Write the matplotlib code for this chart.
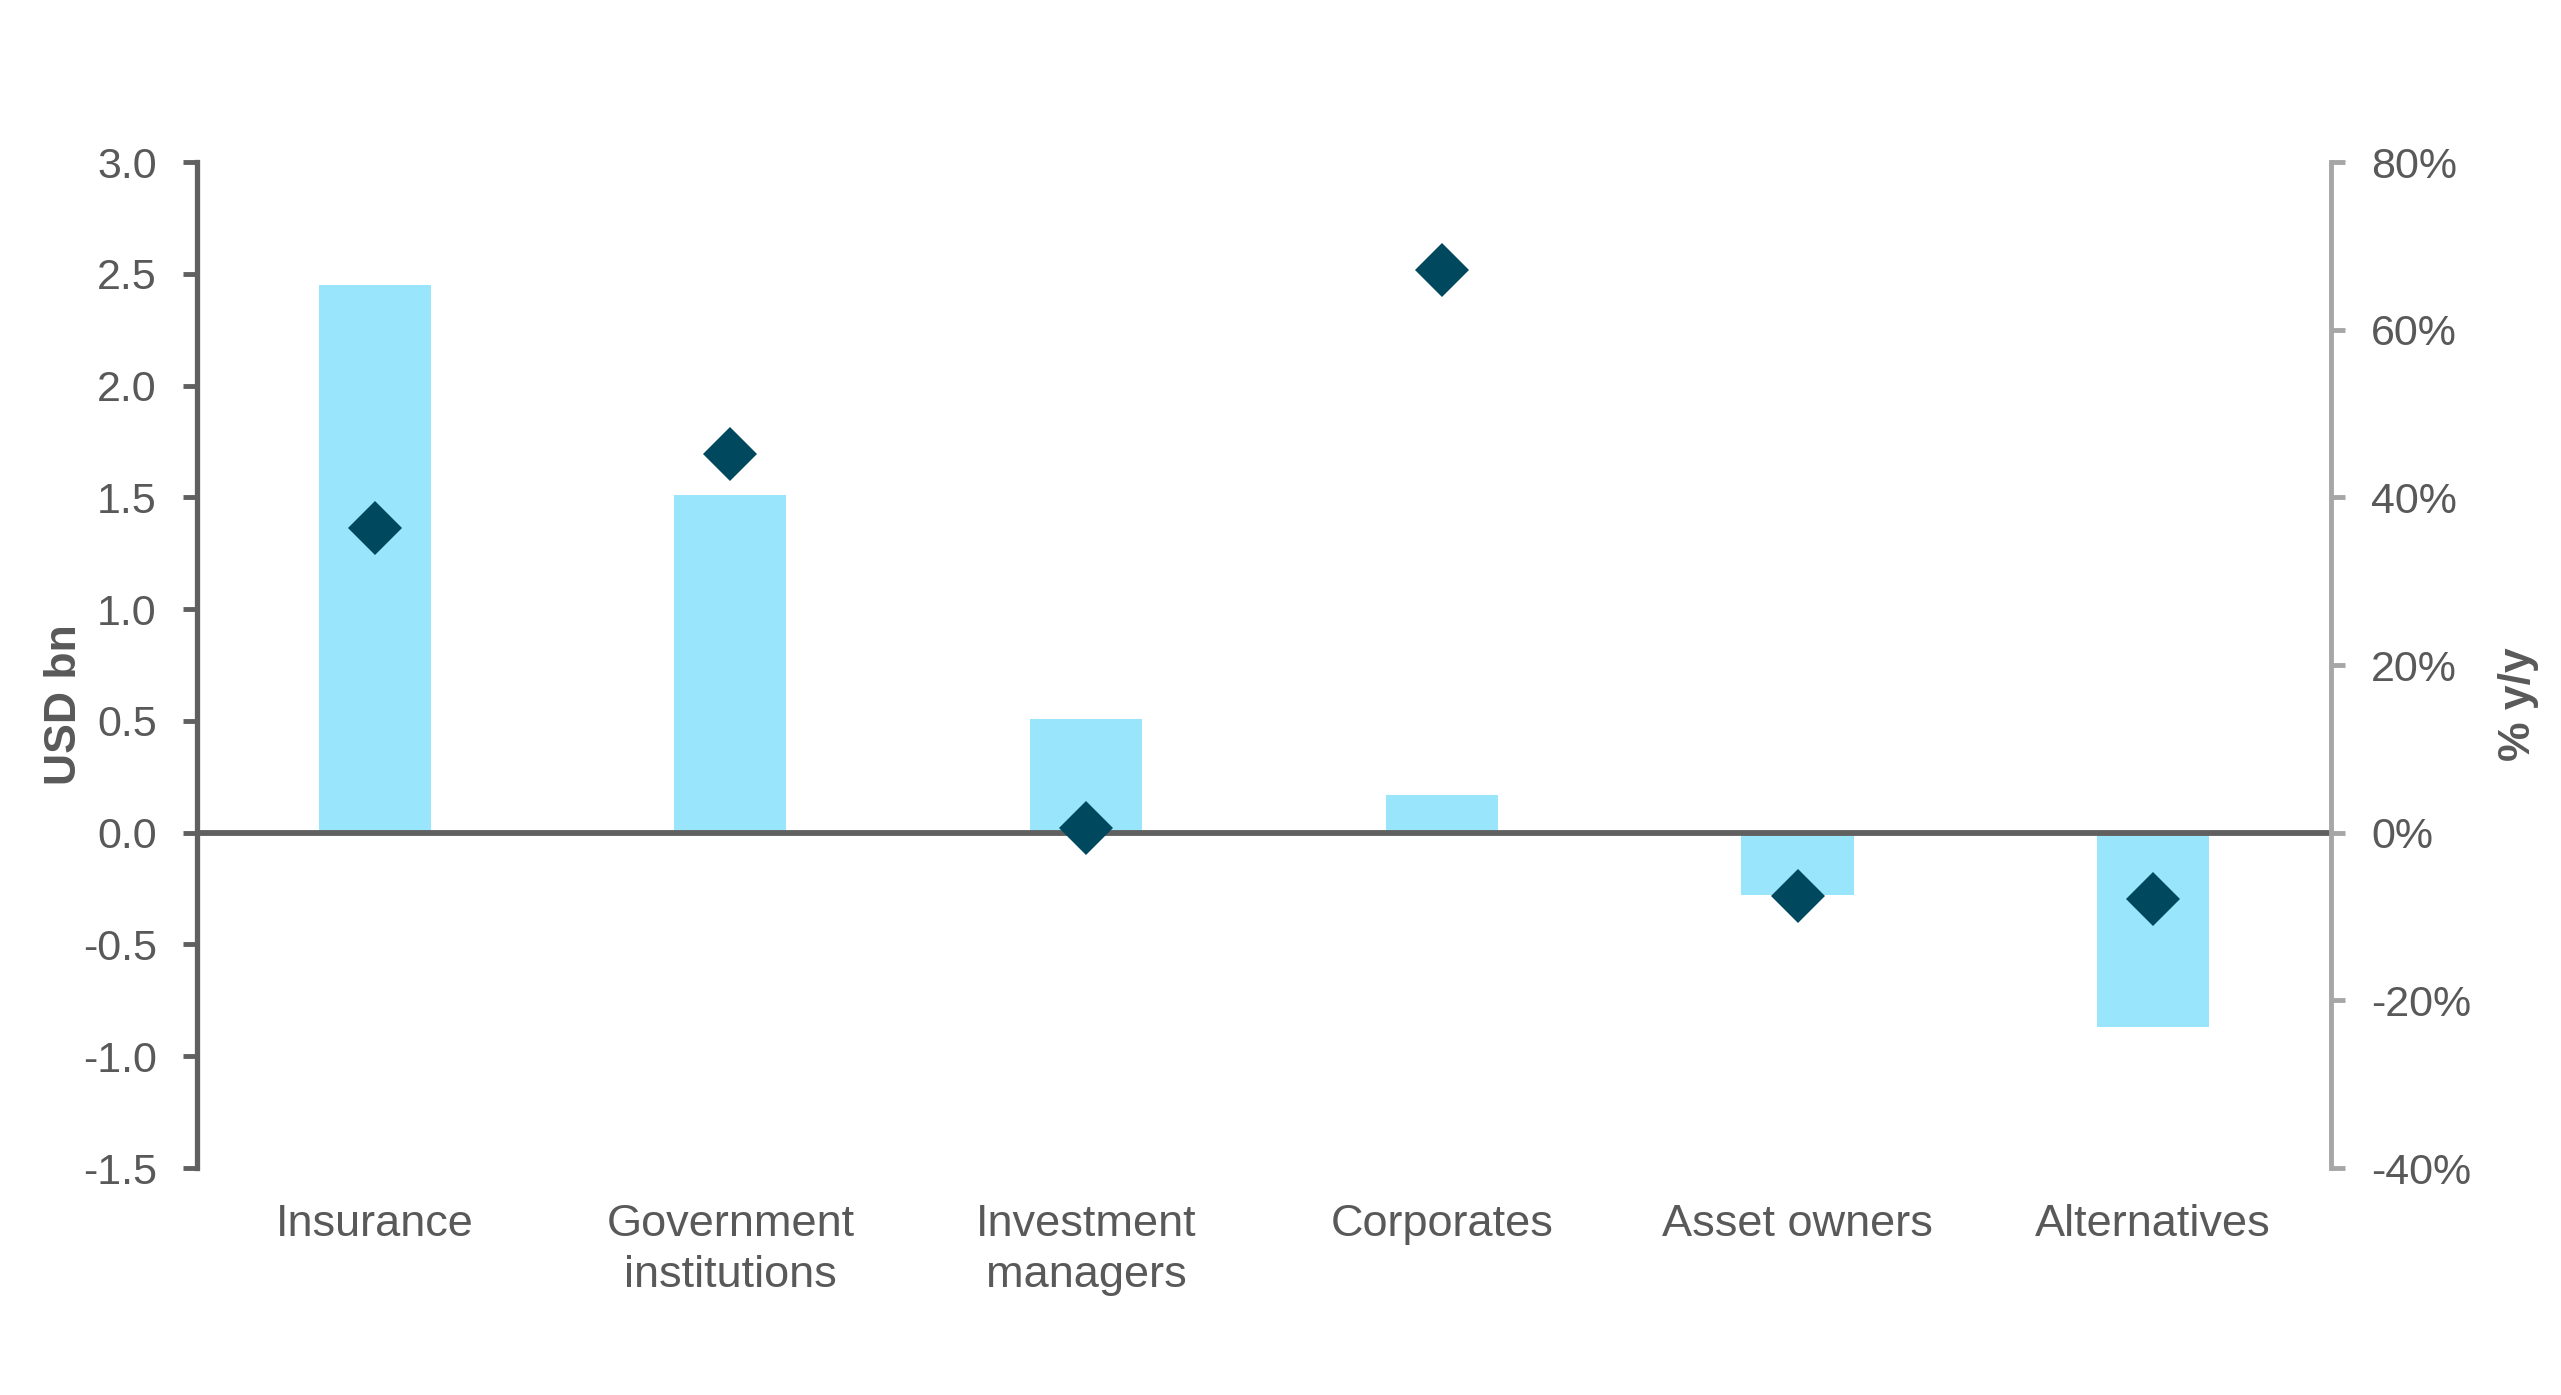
import matplotlib
matplotlib.use("Agg")
import matplotlib.pyplot as plt
from matplotlib.ticker import FormatStrFormatter, FuncFormatter

# data
categories = ["Insurance", "Government\ninstitutions", "Investment\nmanagers",
              "Corporates", "Asset owners", "Alternatives"]
usd_bn = [2.45, 1.51, 0.51, 0.17, -0.28, -0.87]      # bars, left axis
pct_yy = [36.3, 45.2, 0.6, 67.1, -7.5, -7.9]          # diamonds, right axis

left_ticks = [-1.5, -1.0, -0.5, 0.0, 0.5, 1.0, 1.5, 2.0, 2.5, 3.0]
right_ticks = [-40, -20, 0, 20, 40, 60, 80]

BAR_COLOR = "#99E6FC"
DOT_COLOR = "#00485E"
TEXT_COLOR = "#595959"
DARK_AXIS = "#606060"
LIGHT_AXIS = "#A6A6A6"

plt.rcParams["font.family"] = ["Liberation Sans", "DejaVu Sans"]
plt.rcParams["axes.unicode_minus"] = False


def main():
    fig = plt.figure(figsize=(25.61, 13.95), dpi=100)
    ax = fig.add_axes([0.0769, 0.1627, 0.8333, 0.7211])
    x = list(range(len(categories)))

    # 1. bars on the left axis
    ax.bar(x, usd_bn, width=0.315, color=BAR_COLOR, zorder=2)
    ax.axhline(0, color=DARK_AXIS, linewidth=4.2, zorder=3)
    ax.set_xlim(-0.5, len(categories) - 0.5)
    ax.set_ylim(-1.5, 3.0)
    ax.set_yticks(left_ticks)
    ax.yaxis.set_major_formatter(FormatStrFormatter("%.1f"))
    ax.set_xticks(x)
    ax.set_xticklabels(categories, fontsize=32.5, color=TEXT_COLOR, linespacing=1.3)
    ax.tick_params(axis="x", length=0, pad=26)
    ax.tick_params(axis="y", length=10, width=3.5, color=DARK_AXIS,
                   labelsize=31, labelcolor=TEXT_COLOR, pad=19)
    for side in ["top", "right", "bottom"]:
        ax.spines[side].set_visible(False)
    ax.spines["left"].set_color(DARK_AXIS)
    ax.spines["left"].set_linewidth(3.8)
    ax.set_ylabel("USD bn", fontsize=32, fontweight="bold", color=TEXT_COLOR,
                  va="center")
    ax.yaxis.set_label_coords(-0.062, 0.461)

    # 2. diamonds on the right axis
    ax2 = ax.twinx()
    ax2.plot(x, pct_yy, linestyle="none", marker="D", markersize=27,
             markerfacecolor=DOT_COLOR, markeredgewidth=0, zorder=5)
    ax2.set_ylim(-40, 80)
    ax2.set_yticks(right_ticks)
    ax2.yaxis.set_major_formatter(FuncFormatter(lambda v, p: f"{v:.0f}%"))
    ax2.tick_params(axis="y", length=10, width=3.5, color=LIGHT_AXIS,
                    labelsize=31, labelcolor=TEXT_COLOR, pad=19)
    for side in ["top", "left", "bottom"]:
        ax2.spines[side].set_visible(False)
    ax2.spines["right"].set_color(LIGHT_AXIS)
    ax2.spines["right"].set_linewidth(3.5)
    ax2.set_ylabel("% y/y", fontsize=32, fontweight="bold", color=TEXT_COLOR,
                   rotation=90, va="center")
    ax2.yaxis.set_label_coords(1.088, 0.461)

    fig.savefig("out.png", dpi=100, facecolor="white")
    plt.close(fig)


if __name__ == "__main__":
    main()
